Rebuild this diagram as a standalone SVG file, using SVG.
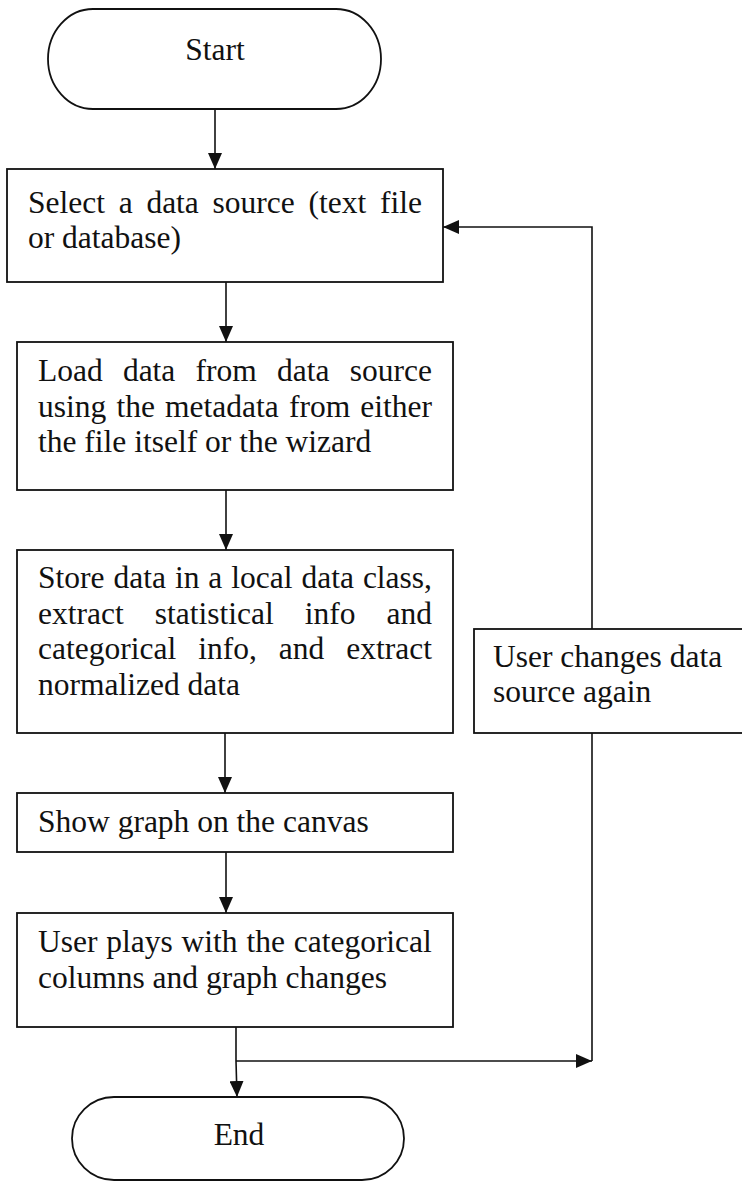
<svg xmlns="http://www.w3.org/2000/svg" width="742" height="1182" viewBox="0 0 742 1182">
<style>
.box{fill:#fff;stroke:#111;stroke-width:1.8}
.ln{fill:none;stroke:#111;stroke-width:1.6}
text{font-family:"Liberation Serif","Times New Roman",serif;font-size:31.5px;fill:#111}
.c{text-anchor:middle}
</style>
<defs>
<marker id="ah" viewBox="0 0 16 14" refX="16" refY="7" markerWidth="16" markerHeight="14" markerUnits="userSpaceOnUse" orient="auto">
<path d="M0,0 L16,7 L0,14 Z" fill="#111"/>
</marker>
</defs>
<rect width="742" height="1182" fill="#fff"/>
<g id="connectors">
<line class="ln" x1="215" y1="109" x2="215" y2="169" marker-end="url(#ah)"/>
<line class="ln" x1="226" y1="282" x2="226" y2="342" marker-end="url(#ah)"/>
<line class="ln" x1="226" y1="490" x2="226" y2="550" marker-end="url(#ah)"/>
<line class="ln" x1="225" y1="733" x2="225" y2="793" marker-end="url(#ah)"/>
<line class="ln" x1="226" y1="852" x2="226" y2="913" marker-end="url(#ah)"/>
<polyline class="ln" points="236,1027 236,1061 237,1097" marker-end="url(#ah)"/>
<line class="ln" x1="236" y1="1061" x2="592" y2="1061" marker-end="url(#ah)"/>
<line class="ln" x1="592" y1="733" x2="592" y2="1061"/>
<polyline class="ln" points="592,629 592,227 443,227" marker-end="url(#ah)"/>
</g>
<g id="start">
<rect class="box" x="48" y="9" width="333" height="100" rx="45" ry="50"/>
<text class="c" x="215" y="60">Start</text>
</g>
<g id="select">
<rect class="box" x="7" y="169" width="436" height="113"/>
<text y="213"><tspan x="28">Select</tspan><tspan x="118.7">a</tspan><tspan x="146.4">data</tspan><tspan x="212.6">source</tspan><tspan x="308.5">(text</tspan><tspan x="379.9">file</tspan></text>
<text x="28" y="248">or database)</text>
</g>
<g id="load">
<rect class="box" x="17" y="342" width="436" height="148"/>
<text y="381"><tspan x="38">Load</tspan><tspan x="122.9">data</tspan><tspan x="195.6">from</tspan><tspan x="277">data</tspan><tspan x="349.8">source</tspan></text>
<text y="417"><tspan x="38">using</tspan><tspan x="116.5">the</tspan><tspan x="165.1">metadata</tspan><tspan x="289">from</tspan><tspan x="360.3">either</tspan></text>
<text x="38" y="452">the file itself or the wizard</text>
</g>
<g id="store">
<rect class="box" x="17" y="550" width="436" height="183"/>
<text y="588"><tspan x="38">Store</tspan><tspan x="113.45">data</tspan><tspan x="174.9">in</tspan><tspan x="208.35">a</tspan><tspan x="231.3">local</tspan><tspan x="301.45">data</tspan><tspan x="362.9">class,</tspan></text>
<text y="624"><tspan x="38">extract</tspan><tspan x="154.7">statistical</tspan><tspan x="304.8">info</tspan><tspan x="386.5">and</tspan></text>
<text y="659"><tspan x="38">categorical</tspan><tspan x="198.2">info,</tspan><tspan x="278.8">and</tspan><tspan x="346.3">extract</tspan></text>
<text x="38" y="695">normalized data</text>
</g>
<g id="user-changes">
<rect class="box" x="474" y="629" width="290" height="104"/>
<text x="493" y="667">User changes data</text>
<text x="493" y="702">source again</text>
</g>
<g id="show">
<rect class="box" x="17" y="793" width="436" height="59"/>
<text x="38" y="832">Show graph on the canvas</text>
</g>
<g id="plays">
<rect class="box" x="17" y="913" width="436" height="114"/>
<text y="952"><tspan x="38">User</tspan><tspan x="106.3">plays</tspan><tspan x="181.6">with</tspan><tspan x="246.4">the</tspan><tspan x="293.7">categorical</tspan></text>
<text x="38" y="988">columns and graph changes</text>
</g>
<g id="end">
<rect class="box" x="72" y="1097" width="332" height="83" rx="42" ry="41.5"/>
<text class="c" x="239" y="1145">End</text>
</g>
</svg>
